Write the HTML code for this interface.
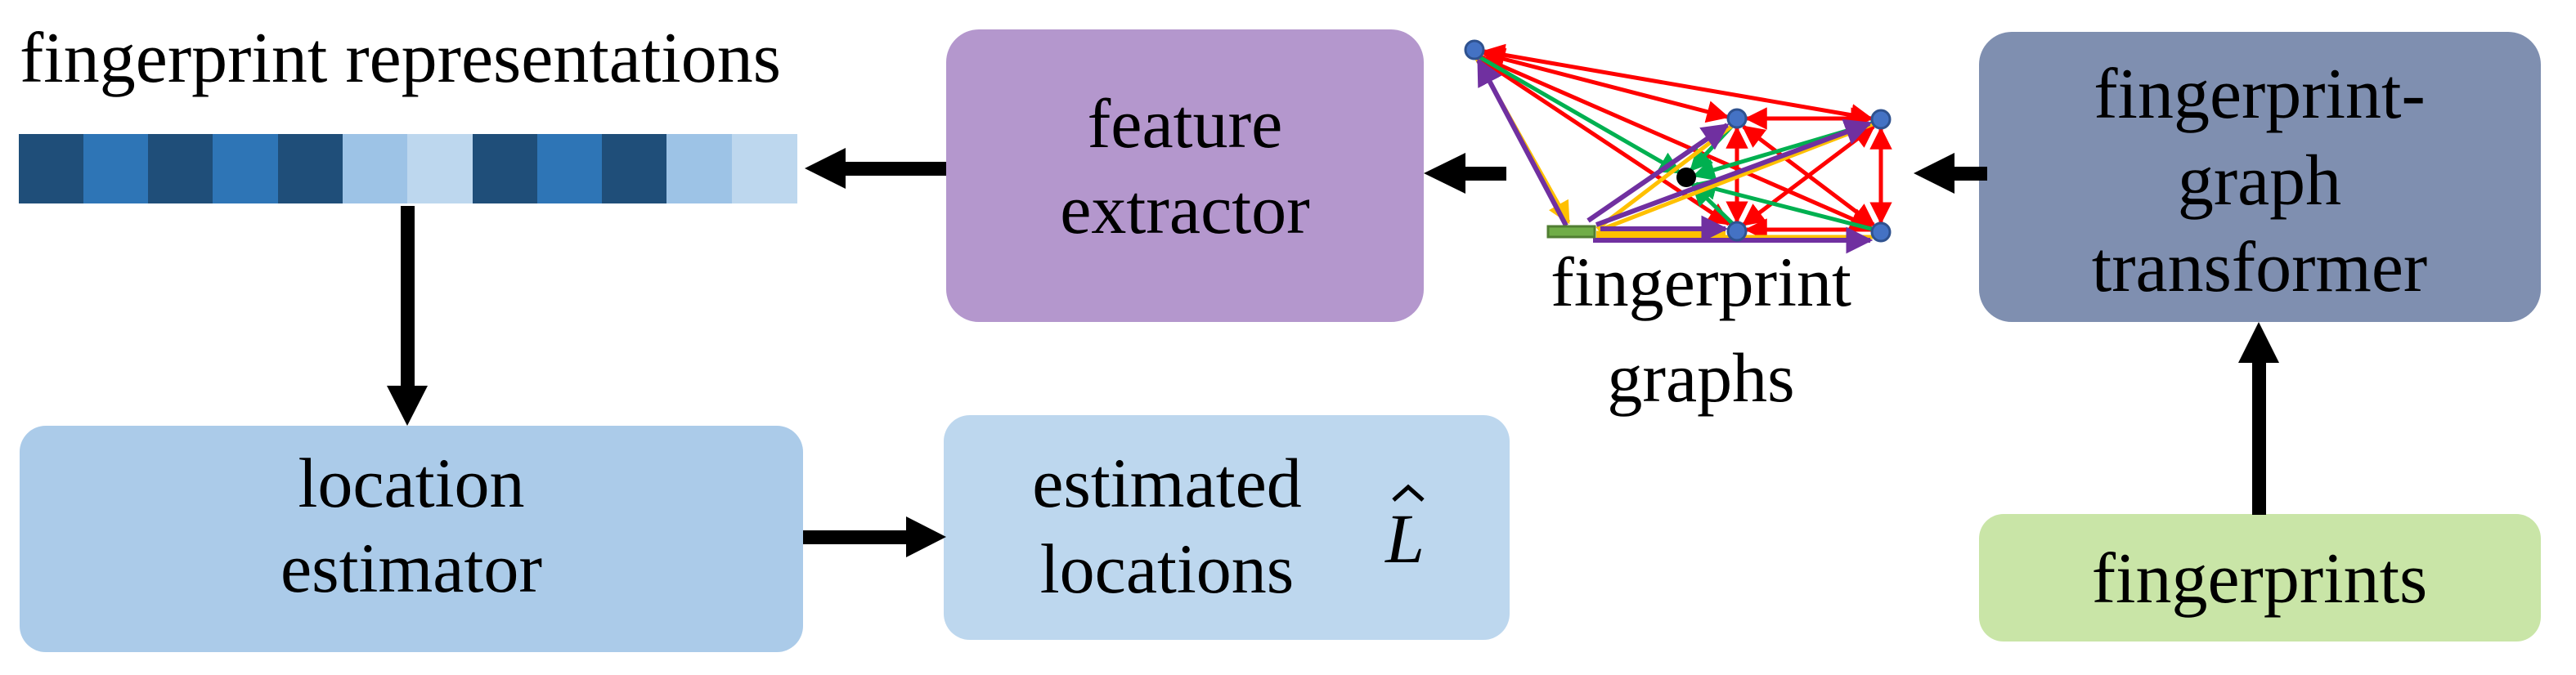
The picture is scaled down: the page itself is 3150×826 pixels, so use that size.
<!DOCTYPE html>
<html><head><meta charset="utf-8"><style>
html,body{margin:0;padding:0;background:#fff;}
svg{display:block;}
text{font-family:"Liberation Serif","Times New Roman",Times,serif;fill:#000;}
</style></head><body>
<svg width="3150" height="826" viewBox="0 0 3150 826" xmlns="http://www.w3.org/2000/svg" font-family="'Liberation Serif', 'Times New Roman', Times, serif">
<defs>
<marker id="r" viewBox="0 0 10 10" refX="9" refY="5" markerWidth="5.5" markerHeight="5.5" orient="auto-start-reverse"><path d="M0,0L10,5L0,10z" fill="#ff0000"/></marker>
<marker id="g" viewBox="0 0 10 10" refX="9" refY="5" markerWidth="5.5" markerHeight="5.5" orient="auto"><path d="M0,0L10,5L0,10z" fill="#00b050"/></marker>
<marker id="p" viewBox="0 0 10 10" refX="9" refY="5" markerWidth="5.5" markerHeight="5.5" orient="auto-start-reverse"><path d="M0,0L10,5L0,10z" fill="#7030a0"/></marker>
<marker id="y" viewBox="0 0 10 10" refX="9" refY="5" markerWidth="5.5" markerHeight="5.5" orient="auto"><path d="M0,0L10,5L0,10z" fill="#ffc000"/></marker>
</defs>

<text x="24" y="100" font-size="88">fingerprint representations</text>

<g>
<rect x="23" y="164" width="80" height="85" fill="#1f4e79"/>
<rect x="102" y="164" width="80" height="85" fill="#2e75b6"/>
<rect x="181" y="164" width="80" height="85" fill="#1f4e79"/>
<rect x="260" y="164" width="80" height="85" fill="#2e75b6"/>
<rect x="340" y="164" width="80" height="85" fill="#1f4e79"/>
<rect x="419" y="164" width="80" height="85" fill="#9dc3e6"/>
<rect x="498" y="164" width="80" height="85" fill="#bdd7ee"/>
<rect x="578" y="164" width="80" height="85" fill="#1f4e79"/>
<rect x="657" y="164" width="80" height="85" fill="#2e75b6"/>
<rect x="736" y="164" width="80" height="85" fill="#1f4e79"/>
<rect x="815" y="164" width="80" height="85" fill="#9dc3e6"/>
<rect x="895" y="164" width="80" height="85" fill="#bdd7ee"/>
</g>

<rect x="1157" y="36" width="584" height="358" rx="40" fill="#b497cd"/>
<text x="1449" y="180" font-size="86" text-anchor="middle">feature</text>
<text x="1449" y="285" font-size="86" text-anchor="middle">extractor</text>

<rect x="2420" y="39" width="687" height="355" rx="40" fill="#7f8fb0"/>
<text x="2763" y="144" font-size="88" text-anchor="middle">fingerprint-</text>
<text x="2763" y="250" font-size="88" text-anchor="middle">graph</text>
<text x="2763" y="356" font-size="88" text-anchor="middle">transformer</text>

<rect x="2420" y="629" width="687" height="156" rx="30" fill="#c9e5a7"/>
<text x="2763" y="737" font-size="88" text-anchor="middle">fingerprints</text>

<rect x="24" y="521" width="958" height="277" rx="32" fill="#abcbe9"/>
<text x="503" y="620" font-size="86" text-anchor="middle">location</text>
<text x="503" y="724" font-size="86" text-anchor="middle">estimator</text>

<rect x="1154" y="508" width="692" height="275" rx="32" fill="#bdd7ee"/>
<text x="1427" y="620" font-size="86" text-anchor="middle">estimated</text>
<text x="1427" y="725" font-size="86" text-anchor="middle">locations</text>
<text x="1718" y="688" font-size="86" font-style="italic" text-anchor="middle">L</text>
<path d="M1704,612L1722,596L1740,612" fill="none" stroke="#000" stroke-width="5"/>

<text x="2080" y="374" font-size="86" text-anchor="middle">fingerprint</text>
<text x="2080" y="491" font-size="86" text-anchor="middle">graphs</text>

<!-- black arrows -->
<g fill="#000">
<rect x="1032" y="198" width="125" height="17"/><path d="M984,206L1034,181L1034,231z"/>
<rect x="1790" y="204" width="52" height="17"/><path d="M1741,212L1792,187L1792,237z"/>
<rect x="2388" y="204" width="42" height="17"/><path d="M2340,212L2390,187L2390,237z"/>
<rect x="2754" y="442" width="17" height="188"/><path d="M2762,394L2737,444L2787,444z"/>
<rect x="490" y="252" width="17" height="222"/><path d="M498,521L473,472L523,472z"/>
<rect x="982" y="649" width="128" height="17"/><path d="M1157,657L1108,632L1108,682z"/>
</g>

<!-- graph -->
<g fill="none" stroke-width="5">
<line x1="1815" y1="63" x2="2288" y2="145" stroke="#ff0000" marker-start="url(#r)" marker-end="url(#r)"/>
<line x1="1815" y1="66" x2="2112" y2="143" stroke="#ff0000" marker-start="url(#r)" marker-end="url(#r)"/>
<line x1="1812" y1="70" x2="2288" y2="278" stroke="#ff0000" marker-end="url(#r)"/>
<line x1="1810" y1="72" x2="2114" y2="274" stroke="#ff0000" marker-end="url(#r)"/>
<line x1="2136" y1="145" x2="2288" y2="145" stroke="#ff0000" marker-start="url(#r)" marker-end="url(#r)"/>
<line x1="2124" y1="157" x2="2124" y2="271" stroke="#ff0000" marker-start="url(#r)" marker-end="url(#r)"/>
<line x1="2300" y1="158" x2="2300" y2="272" stroke="#ff0000" marker-start="url(#r)" marker-end="url(#r)"/>
<line x1="2132" y1="155" x2="2291" y2="275" stroke="#ff0000" marker-start="url(#r)" marker-end="url(#r)"/>
<line x1="2291" y1="155" x2="2132" y2="275" stroke="#ff0000" marker-start="url(#r)" marker-end="url(#r)"/>
<line x1="2136" y1="281" x2="2288" y2="281" stroke="#ff0000" marker-start="url(#r)"/>
<line x1="1806" y1="68" x2="2054" y2="211" stroke="#00b050" marker-end="url(#g)"/>
<line x1="2119" y1="153" x2="2068" y2="208" stroke="#00b050" marker-end="url(#g)"/>
<line x1="2292" y1="150" x2="2072" y2="215" stroke="#00b050" marker-end="url(#g)"/>
<line x1="2120" y1="275" x2="2070" y2="226" stroke="#00b050" marker-end="url(#g)"/>
<line x1="2292" y1="281" x2="2074" y2="225" stroke="#00b050" marker-end="url(#g)"/>
<line x1="1806" y1="72" x2="1918" y2="272" stroke="#ffc000" marker-end="url(#y)"/>
<line x1="2118" y1="154" x2="1953" y2="280" stroke="#ffc000"/>
<line x1="2290" y1="152" x2="1955" y2="282" stroke="#ffc000"/>
<line x1="2110" y1="286" x2="1952" y2="286" stroke="#ffc000" stroke-width="7"/>
<line x1="2290" y1="290" x2="1952" y2="290" stroke="#ffc000"/>
<line x1="1915" y1="276" x2="1808" y2="74" stroke="#7030a0" stroke-width="6" marker-end="url(#p)"/>
<line x1="1942" y1="270" x2="2112" y2="153" stroke="#7030a0" stroke-width="6" marker-end="url(#p)"/>
<line x1="1952" y1="275" x2="2286" y2="151" stroke="#7030a0" stroke-width="6" marker-end="url(#p)"/>
<line x1="1957" y1="280" x2="2110" y2="280" stroke="#7030a0" stroke-width="6" marker-end="url(#p)"/>
<line x1="1948" y1="294" x2="2287" y2="294" stroke="#7030a0" stroke-width="6" marker-end="url(#p)"/>
</g>
<rect x="1893" y="277" width="57" height="13" fill="#70ad47" stroke="#507e32" stroke-width="3"/>
<g fill="#4472c4" stroke="#2f528f" stroke-width="3">
<circle cx="1803" cy="61" r="11"/>
<circle cx="2124" cy="145" r="11"/>
<circle cx="2300" cy="146" r="11"/>
<circle cx="2124" cy="283" r="11"/>
<circle cx="2300" cy="284" r="11"/>
</g>
<circle cx="2062" cy="217" r="12" fill="#000"/>
</svg>
</body></html>
